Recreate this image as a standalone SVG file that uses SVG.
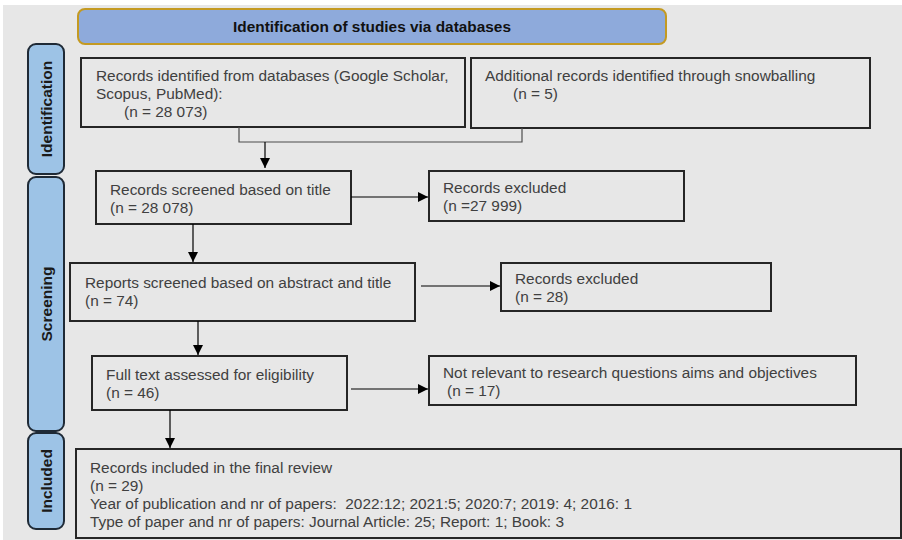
<svg xmlns="http://www.w3.org/2000/svg" width="902" height="540" viewBox="0 0 902 540">
<defs>
<marker id="ah" viewBox="0 0 10 10" refX="10" refY="5" markerWidth="10" markerHeight="10" markerUnits="userSpaceOnUse" orient="auto">
<path d="M0,0 L10,5 L0,10 z" fill="#000"/>
</marker>
</defs>
<style>
.box{fill:none;stroke:#262626;stroke-width:2}
.side{fill:#9dc3e6;stroke:#1f2a36;stroke-width:2}
.t{font-family:"Liberation Sans",Arial,sans-serif;font-size:15.4px;fill:#404040}
.sl{font-family:"Liberation Sans",Arial,sans-serif;font-size:15.5px;font-weight:bold;fill:#1a1a1a;text-anchor:middle}
.arr{stroke:#000;stroke-width:1.2;fill:none;marker-end:url(#ah)}
.mrg{stroke:#4d4d4d;stroke-width:1.2;fill:none}
</style>
<rect x="0" y="0" width="902" height="540" fill="#ffffff"/>
<rect x="3" y="5" width="899" height="535" fill="#e7e7e7"/>

<g id="header">
<rect x="78" y="9" width="588" height="35" rx="7" fill="#8eaadb" stroke="#c49a22" stroke-width="2"/>
<text x="372" y="32" font-family="Liberation Sans, Arial, sans-serif" font-size="15.4px" font-weight="bold" fill="#111" text-anchor="middle">Identification of studies via databases</text>
</g>

<g id="lbl-identification">
<rect class="side" x="28" y="44" width="36" height="130" rx="8"/>
<text class="sl" transform="translate(51.5,109) rotate(-90)">Identification</text>
</g>
<g id="lbl-screening">
<rect class="side" x="28" y="177" width="36" height="254" rx="8"/>
<text class="sl" transform="translate(51.5,304) rotate(-90)">Screening</text>
</g>
<g id="lbl-included">
<rect class="side" x="28" y="433" width="36" height="96" rx="8"/>
<text class="sl" transform="translate(51.5,481) rotate(-90)">Included</text>
</g>

<g id="n-databases">
<rect class="box" x="81" y="58" width="384" height="69"/>
<text class="t" x="96" y="81">Records identified from databases (Google Scholar,</text>
<text class="t" x="96" y="99">Scopus, PubMed):</text>
<text class="t" x="124" y="117">(n = 28 073)</text>
</g>
<g id="n-snowball">
<rect class="box" x="471" y="58" width="399" height="70"/>
<text class="t" x="485" y="81">Additional records identified through snowballing</text>
<text class="t" x="513" y="99">(n = 5)</text>
</g>
<g id="n-title">
<rect class="box" x="96" y="171" width="255" height="53"/>
<text class="t" x="110" y="195">Records screened based on title</text>
<text class="t" x="110" y="213">(n = 28 078)</text>
</g>
<g id="n-excl1">
<rect class="box" x="429" y="171" width="255" height="50"/>
<text class="t" x="443" y="193">Records excluded</text>
<text class="t" x="443" y="211">(n =27 999)</text>
</g>
<g id="n-abstract">
<rect class="box" x="70" y="263" width="345" height="58"/>
<text class="t" x="85" y="288">Reports screened based on abstract and title</text>
<text class="t" x="85" y="306">(n = 74)</text>
</g>
<g id="n-excl2">
<rect class="box" x="501" y="263" width="270" height="48"/>
<text class="t" x="515" y="284">Records excluded</text>
<text class="t" x="515" y="302">(n = 28)</text>
</g>
<g id="n-fulltext">
<rect class="box" x="92" y="356" width="255" height="54"/>
<text class="t" x="106" y="380">Full text assessed for eligibility</text>
<text class="t" x="106" y="398">(n = 46)</text>
</g>
<g id="n-notrelevant">
<rect class="box" x="429" y="356" width="427" height="49"/>
<text class="t" x="443" y="378">Not relevant to research questions aims and objectives</text>
<text class="t" x="447" y="396">(n = 17)</text>
</g>
<g id="n-included">
<rect class="box" x="76" y="449" width="825" height="89"/>
<text class="t" x="90" y="473">Records included in the final review</text>
<text class="t" x="90" y="491">(n = 29)</text>
<text class="t" x="90" y="509" xml:space="preserve">Year of publication and nr of papers:  2022:12; 2021:5; 2020:7; 2019: 4; 2016: 1</text>
<text class="t" x="90" y="527">Type of paper and nr of papers: Journal Article: 25; Report: 1; Book: 3</text>
</g>

<g id="connectors">
<polyline class="mrg" points="239,127 239,142 522,142 522,128"/>
<line class="arr" x1="265" y1="142" x2="265" y2="168"/>
<line class="arr" x1="351" y1="197" x2="428" y2="197"/>
<line class="arr" x1="193" y1="224" x2="193" y2="262"/>
<line class="arr" x1="421" y1="286" x2="500" y2="286"/>
<line class="arr" x1="198" y1="321" x2="198" y2="355"/>
<line class="arr" x1="351" y1="389" x2="428" y2="389"/>
<line class="arr" x1="170" y1="410" x2="170" y2="448"/>
</g>
</svg>
